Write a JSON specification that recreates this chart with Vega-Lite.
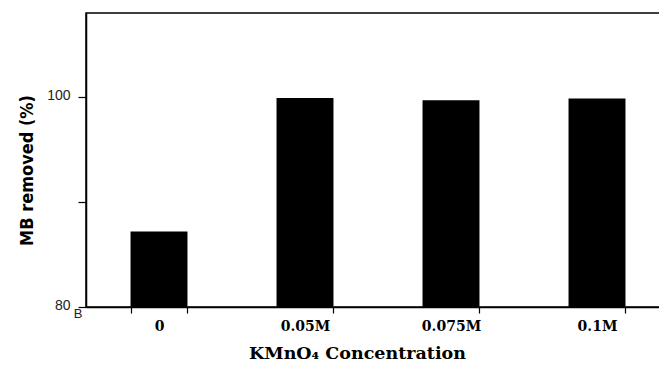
{
  "$schema": "https://vega.github.io/schema/vega-lite/v6.json",
  "width": 584,
  "height": 294,
  "autosize": {"type": "none"},
  "padding": {"left": 86, "top": 13, "right": 0, "bottom": 58},
  "background": "white",
  "config": {
    "view": {"stroke": "black", "strokeWidth": 1.5},
    "axis": {"domainColor": "black", "domainWidth": 1.5, "tickColor": "black", "grid": false}
  },
  "data": {"values": [
    {"conc": "0", "removed": 87.2},
    {"conc": "0.05M", "removed": 99.9},
    {"conc": "0.075M", "removed": 99.7},
    {"conc": "0.1M", "removed": 99.85}
  ]},
  "layer": [
    {
      "mark": {"type": "bar", "color": "black"},
      "encoding": {
        "x": {
          "field": "conc", "type": "nominal", "sort": null,
          "scale": {"paddingInner": 0.61, "paddingOuter": 0.305},
          "axis": {
            "title": "KMnO₄ Concentration",
            "titleFont": "DejaVu Serif", "titleFontSize": 17.5, "titleFontWeight": "bold", "titleColor": "black", "titlePadding": 11,
            "titleX": 271, "titleAlign": "center",
            "labelFont": "DejaVu Serif", "labelFontSize": 14, "labelFontWeight": "bold", "labelColor": "black", "labelPadding": 6,
            "labelAngle": 0, "tickBand": "extent", "tickSize": 6, "tickWidth": 1.2
          }
        },
        "y": {
          "field": "removed", "type": "quantitative",
          "scale": {"domain": [80, 108], "nice": false, "zero": false},
          "axis": {
            "title": "MB removed (%)",
            "titleFont": "DejaVu Sans Condensed, Liberation Sans, sans-serif", "titleFontSize": 18, "titleFontWeight": "bold", "titleColor": "black", "titlePadding": 10,
            "titleY": 157, "titleAlign": "center",
            "values": [80, 90, 100],
            "labelExpr": "datum.value % 20 == 0 ? datum.label : ''",
            "labelFont": "Liberation Sans, sans-serif", "labelFontSize": 14, "labelColor": "#222", "labelPadding": 8, "labelOffset": -2,
            "tickSize": 8, "tickWidth": 1.2
          }
        },
        "y2": {"datum": 80}
      }
    },
    {
      "data": {"values": [{"conc": "0", "removed": 80, "t": "B"}]},
      "mark": {"type": "text", "font": "Liberation Sans, sans-serif", "fontSize": 13, "dx": -8, "dy": 7, "color": "#222"},
      "encoding": {
        "x": {"field": "conc", "type": "nominal", "bandPosition": -0.78},
        "y": {"field": "removed", "type": "quantitative"},
        "text": {"field": "t"}
      }
    }
  ]
}
